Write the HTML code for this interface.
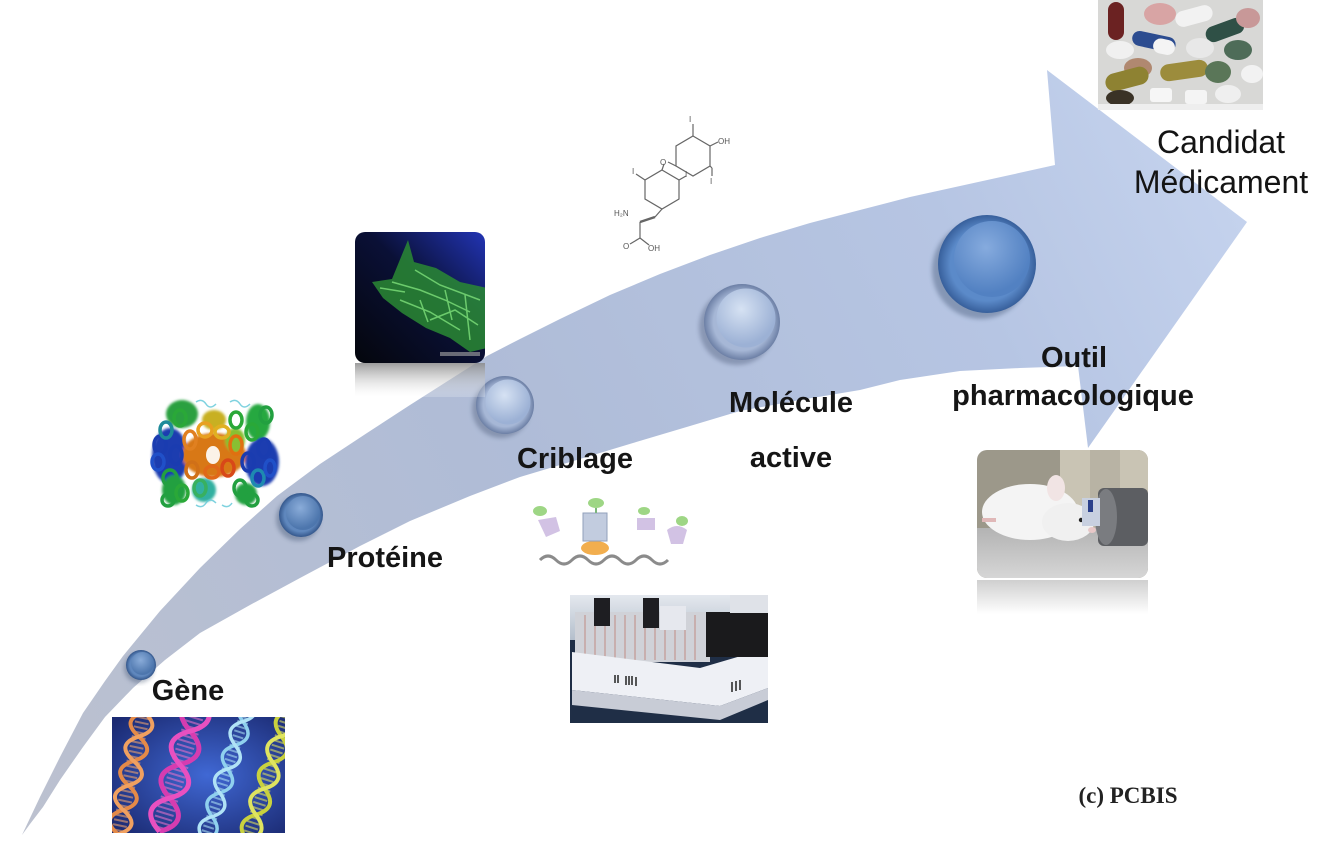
<!DOCTYPE html>
<html><head><meta charset="utf-8">
<style>
html,body{margin:0;padding:0;background:#fff;width:1340px;height:844px;overflow:hidden;}
svg{display:block;}
.lab{font-family:"Liberation Sans",sans-serif;font-weight:bold;font-size:29px;fill:#151515;}
.reg{font-family:"Liberation Sans",sans-serif;font-size:32px;fill:#141414;}
.mol{font-family:"Liberation Sans",sans-serif;font-size:8px;fill:#555;}
</style></head><body>
<svg width="1340" height="844" viewBox="0 0 1340 844" xmlns="http://www.w3.org/2000/svg">
<defs>
 <linearGradient id="band" gradientUnits="userSpaceOnUse" x1="22" y1="835" x2="1247" y2="222">
  <stop offset="0" stop-color="#bcc1cf"/>
  <stop offset="0.45" stop-color="#afbcd7"/>
  <stop offset="0.8" stop-color="#b6c5e3"/>
  <stop offset="1" stop-color="#c4d2ed"/>
 </linearGradient>
 <radialGradient id="bRim" cx="0.5" cy="0.5" r="0.5"><stop offset="0.75" stop-color="#5f87bd"/><stop offset="1" stop-color="#34578c"/></radialGradient>
 <radialGradient id="bFace" cx="0.42" cy="0.35" r="0.6"><stop offset="0" stop-color="#8aacd9"/><stop offset="1" stop-color="#4d76ad"/></radialGradient>
 <radialGradient id="lRim" cx="0.5" cy="0.5" r="0.5"><stop offset="0.75" stop-color="#a6b7d6"/><stop offset="1" stop-color="#6c7fa5"/></radialGradient>
 <radialGradient id="lFace" cx="0.42" cy="0.35" r="0.6"><stop offset="0" stop-color="#d6e2f3"/><stop offset="1" stop-color="#9cb1d5"/></radialGradient>
 <radialGradient id="oRim" cx="0.5" cy="0.5" r="0.5"><stop offset="0.75" stop-color="#5b8ac9"/><stop offset="1" stop-color="#375f9b"/></radialGradient>
 <radialGradient id="oFace" cx="0.42" cy="0.35" r="0.6"><stop offset="0" stop-color="#86abde"/><stop offset="1" stop-color="#5281c2"/></radialGradient>
 <filter id="blur2"><feGaussianBlur stdDeviation="2"/></filter>
 <filter id="blur1"><feGaussianBlur stdDeviation="1.2"/></filter>
 <radialGradient id="dnaBg" cx="0.55" cy="0.5" r="0.7"><stop offset="0" stop-color="#4068d4"/><stop offset="1" stop-color="#1b2a72"/></radialGradient>
 <clipPath id="dnaClip"><rect x="112" y="717" width="173" height="116"/></clipPath>
 <linearGradient id="cellBg" x1="0" y1="1" x2="1" y2="0"><stop offset="0" stop-color="#04060c"/><stop offset="0.55" stop-color="#0a1036"/><stop offset="1" stop-color="#2234b4"/></linearGradient>
 <linearGradient id="refl" x1="0" y1="0" x2="0" y2="1"><stop offset="0" stop-color="#8a8a8a" stop-opacity="0.85"/><stop offset="1" stop-color="#ffffff" stop-opacity="0.2"/></linearGradient>
 <linearGradient id="refl2" x1="0" y1="0" x2="0" y2="1"><stop offset="0" stop-color="#cfcfcf"/><stop offset="1" stop-color="#ffffff"/></linearGradient>
 <clipPath id="cellClip"><rect x="355" y="232" width="130" height="131" rx="10"/></clipPath>
 <clipPath id="ratClip"><rect x="977" y="450" width="171" height="128" rx="10"/></clipPath>
 <clipPath id="plateClip"><rect x="570" y="595" width="198" height="128"/></clipPath>
 <clipPath id="pillClip"><rect x="1098" y="0" width="165" height="110"/></clipPath>
 <linearGradient id="floor" x1="0" y1="0" x2="0" y2="1"><stop offset="0" stop-color="#b3b3b3"/><stop offset="1" stop-color="#d6d6d6"/></linearGradient>
 <linearGradient id="plateTop" x1="0" y1="0" x2="0" y2="1"><stop offset="0" stop-color="#e4e8ee"/><stop offset="1" stop-color="#b4bfcc"/></linearGradient>
</defs>

<rect width="1340" height="844" fill="#fff"/>

<!-- Big curved arrow -->
<path fill="url(#band)" d="M22,835 L40,797 L60,757 L83,713 L105,681 L123,656 L160,611 L200,568 L240,529 L277,496 L320,464 L367,433 L410,405 L443,384 L487,356 L520,339 L560,319 L610,295 L660,274 L710,255 L760,238 L810,223 L860,210 L910,197 L960,186 L1010,175 L1055,165 L1047,70 L1247,222 L1088,448 L1078,366 L1020,368 L960,371 L900,380 L860,390 L800,400 L740,411 L690,426 L633,443 L580,459 L520,477 L470,496 L410,521 L360,546 L300,578 L250,605 L200,633 L165,660 L133,688 L105,717 L83,747 L60,780 L43,807 L30,824 Z"/>

<!-- Circles -->
<g>
 <circle cx="139" cy="668" r="15" fill="#2c3f60" opacity="0.35" filter="url(#blur2)"/>
 <circle cx="141" cy="665" r="15" fill="url(#bRim)"/>
 <circle cx="142.5" cy="663.5" r="11.5" fill="url(#bFace)"/>

 <circle cx="298" cy="519" r="22" fill="#2c3f60" opacity="0.35" filter="url(#blur2)"/>
 <circle cx="301" cy="515" r="22" fill="url(#bRim)"/>
 <circle cx="303" cy="513" r="17" fill="url(#bFace)"/>

 <circle cx="501" cy="409" r="29" fill="#3a4868" opacity="0.35" filter="url(#blur2)"/>
 <circle cx="505" cy="405" r="29" fill="url(#lRim)"/>
 <circle cx="508" cy="402" r="22.5" fill="url(#lFace)"/>

 <circle cx="737" cy="327" r="38" fill="#3a4868" opacity="0.35" filter="url(#blur2)"/>
 <circle cx="742" cy="322" r="38" fill="url(#lRim)"/>
 <circle cx="746" cy="318" r="29.5" fill="url(#lFace)"/>

 <circle cx="981" cy="270" r="49" fill="#2c3f60" opacity="0.35" filter="url(#blur2)"/>
 <circle cx="987" cy="264" r="49" fill="url(#oRim)"/>
 <circle cx="992" cy="259" r="38" fill="url(#oFace)"/>
</g>

<!-- Labels -->
<text class="lab" x="188" y="700" text-anchor="middle">Gène</text>
<text class="lab" x="385" y="567" text-anchor="middle">Protéine</text>
<text class="lab" x="575" y="468" text-anchor="middle">Criblage</text>
<text class="lab" x="791" y="412" text-anchor="middle">Molécule</text>
<text class="lab" x="791" y="467" text-anchor="middle">active</text>
<text class="lab" x="1074" y="367" text-anchor="middle">Outil</text>
<text class="lab" x="1073" y="405" text-anchor="middle">pharmacologique</text>
<text class="reg" x="1221" y="153" text-anchor="middle">Candidat</text>
<text class="reg" x="1221" y="193" text-anchor="middle">Médicament</text>
<text x="1128" y="803" text-anchor="middle" font-family="Liberation Serif, serif" font-weight="bold" font-size="23" fill="#222">(c) PCBIS</text>

<!-- DNA image -->
<g clip-path="url(#dnaClip)">
 <rect x="112" y="717" width="173" height="116" fill="url(#dnaBg)"/>
 <g transform="translate(143,717) rotate(12)">
  <line x1="0" y1="-30" x2="0" y2="118" stroke="#e8a070" stroke-width="14" stroke-dasharray="2 3" opacity="0.6"/>
  <path d="M0,-30 q22,12.5 0,25 q-22,12.5 0,25 q22,12.5 0,25 q-22,12.5 0,25 q22,12.5 0,25 q-22,12.5 0,25" stroke="#e48a48" stroke-width="4" fill="none"/>
  <path d="M0,-30 q-22,12.5 0,25 q22,12.5 0,25 q-22,12.5 0,25 q22,12.5 0,25 q-22,12.5 0,25 q22,12.5 0,25" stroke="#f0a060" stroke-width="4" fill="none"/>
 </g>
 <g transform="translate(196,712) rotate(17)">
  <line x1="0" y1="-50" x2="0" y2="124" stroke="#e070c8" stroke-width="18" stroke-dasharray="2 3" opacity="0.6"/>
  <path d="M0,-50 q28,17.5 0,35 q-28,17.5 0,35 q28,17.5 0,35 q-28,17.5 0,35 q28,17.5 0,35" stroke="#d63cb0" stroke-width="5" fill="none"/>
  <path d="M0,-50 q-28,17.5 0,35 q28,17.5 0,35 q-28,17.5 0,35 q28,17.5 0,35 q-28,17.5 0,35" stroke="#e850c0" stroke-width="5" fill="none"/>
 </g>
 <g transform="translate(246,712) rotate(18)">
  <line x1="0" y1="-40" x2="0" y2="133" stroke="#a8dcf2" stroke-width="11" stroke-dasharray="2 3" opacity="0.6"/>
  <path d="M0,-40 q18,12.5 0,25 q-18,12.5 0,25 q18,12.5 0,25 q-18,12.5 0,25 q18,12.5 0,25 q-18,12.5 0,25 q18,12.5 0,25" stroke="#8fd0ee" stroke-width="3.5" fill="none"/>
  <path d="M0,-40 q-18,12.5 0,25 q18,12.5 0,25 q-18,12.5 0,25 q18,12.5 0,25 q-18,12.5 0,25 q18,12.5 0,25 q-18,12.5 0,25" stroke="#b0e2f6" stroke-width="3.5" fill="none"/>
 </g>
 <g transform="translate(286,722) rotate(18)">
  <line x1="0" y1="-40" x2="0" y2="122" stroke="#d8dc60" stroke-width="13" stroke-dasharray="2 3" opacity="0.6"/>
  <path d="M0,-40 q20,13.75 0,27.5 q-20,13.75 0,27.5 q20,13.75 0,27.5 q-20,13.75 0,27.5 q20,13.75 0,27.5 q-20,13.75 0,27.5" stroke="#c9d13e" stroke-width="4" fill="none"/>
  <path d="M0,-40 q-20,13.75 0,27.5 q20,13.75 0,27.5 q-20,13.75 0,27.5 q20,13.75 0,27.5 q-20,13.75 0,27.5 q20,13.75 0,27.5" stroke="#dfe460" stroke-width="4" fill="none"/>
 </g>
</g>

<!-- Protein ribbon cluster -->
<g filter="url(#blur1)">
 <ellipse cx="182" cy="414" rx="16" ry="14" fill="#2aa040"/>
 <ellipse cx="170" cy="456" rx="18" ry="28" fill="#1c3cb0"/>
 <ellipse cx="174" cy="490" rx="12" ry="15" fill="#22a040"/>
 <ellipse cx="214" cy="455" rx="32" ry="22" fill="#d87818"/>
 <ellipse cx="258" cy="422" rx="12" ry="18" fill="#28a840"/>
 <ellipse cx="262" cy="462" rx="17" ry="24" fill="#1c3cb0"/>
 <ellipse cx="246" cy="494" rx="11" ry="11" fill="#22a040"/>
 <ellipse cx="214" cy="420" rx="12" ry="10" fill="#c8b020"/>
 <ellipse cx="204" cy="490" rx="12" ry="12" fill="#30b0a0"/>
 <ellipse cx="235" cy="440" rx="10" ry="12" fill="#88c030"/>
</g>
<g fill="none" stroke-width="3.5">
 <ellipse cx="160" cy="445" rx="6" ry="9" stroke="#1a3cb0"/>
 <ellipse cx="158" cy="462" rx="6" ry="8" stroke="#2050c8"/>
 <ellipse cx="166" cy="430" rx="6" ry="8" stroke="#1e8a9a"/>
 <ellipse cx="170" cy="478" rx="7" ry="8" stroke="#22a040"/>
 <ellipse cx="176" cy="455" rx="6" ry="9" stroke="#1a3cb0"/>
 <ellipse cx="182" cy="493" rx="6" ry="8" stroke="#2aa838"/>
 <ellipse cx="180" cy="418" rx="6" ry="8" stroke="#2aa838"/>
 <ellipse cx="190" cy="440" rx="6" ry="9" stroke="#e08020"/>
 <ellipse cx="192" cy="470" rx="6" ry="8" stroke="#d07018"/>
 <ellipse cx="200" cy="488" rx="6" ry="8" stroke="#38b060"/>
 <ellipse cx="205" cy="430" rx="7" ry="7" stroke="#e8a020"/>
 <ellipse cx="212" cy="472" rx="7" ry="6" stroke="#e06818"/>
 <ellipse cx="222" cy="432" rx="7" ry="6" stroke="#e0b020"/>
 <ellipse cx="228" cy="468" rx="6" ry="8" stroke="#d84818"/>
 <ellipse cx="236" cy="445" rx="6" ry="9" stroke="#e07010"/>
 <ellipse cx="236" cy="420" rx="6" ry="8" stroke="#2aa838"/>
 <ellipse cx="240" cy="488" rx="6" ry="8" stroke="#22a040"/>
 <ellipse cx="248" cy="462" rx="6" ry="9" stroke="#1a3cb0"/>
 <ellipse cx="252" cy="432" rx="6" ry="8" stroke="#2aa838"/>
 <ellipse cx="258" cy="478" rx="6" ry="8" stroke="#1e8ab0"/>
 <ellipse cx="264" cy="448" rx="6" ry="9" stroke="#1a3cb0"/>
 <ellipse cx="266" cy="415" rx="6" ry="8" stroke="#22a040"/>
 <ellipse cx="270" cy="468" rx="5" ry="8" stroke="#2050c8"/>
 <ellipse cx="252" cy="500" rx="6" ry="6" stroke="#22a040"/>
 <ellipse cx="168" cy="500" rx="6" ry="6" stroke="#22a040"/>
</g>
<g fill="none" stroke-width="1.5" opacity="0.8">
 <path d="M196,402 q6,-4 10,2 q4,6 10,0" stroke="#60c8d8"/>
 <path d="M230,402 q6,-4 10,2 q4,6 10,0" stroke="#60c8d8"/>
 <path d="M196,505 q6,4 10,-2 q4,-6 10,0" stroke="#60c8d8"/>
 <path d="M222,505 q6,4 10,-2" stroke="#60c8d8"/>
</g>
<ellipse cx="213" cy="455" rx="7" ry="9" fill="#fff" opacity="0.9"/>

<!-- Cell image with reflection -->
<rect x="355" y="363" width="130" height="34" fill="url(#refl)"/>
<g clip-path="url(#cellClip)">
 <rect x="355" y="232" width="130" height="131" fill="url(#cellBg)"/>
 <path d="M408,240 L414,262 L436,268 L460,282 L487,288 L487,348 L470,352 L450,338 L426,328 L402,313 L383,298 L372,282 L392,279 Z" fill="#2a8a34" opacity="0.85"/>
 <path d="M392,282 L420,290 L445,300 L470,312 M400,300 L430,312 L460,330 M415,270 L440,285 L480,300 M430,320 L455,310 L478,325 M380,288 L405,292 M445,290 L452,320 M420,300 L428,322 M465,295 L470,340" stroke="#7ee07a" stroke-width="1.5" fill="none" opacity="0.8"/>
 <rect x="440" y="352" width="40" height="4" fill="#aaa" opacity="0.6"/>
</g>

<!-- Molecule drawing -->
<g stroke="#666" stroke-width="1.2" fill="none">
 <polygon points="693,136 710,146 710,166 693,176 676,166 676,146"/>
 <polygon points="662,170 679,180 679,199 662,209 645,199 645,180"/>
 <line x1="693" y1="136" x2="693" y2="124"/>
 <line x1="710" y1="146" x2="718" y2="142"/>
 <line x1="710" y1="166" x2="712" y2="168"/>
 <line x1="676" y1="166" x2="668" y2="162"/>
 <line x1="662" y1="170" x2="664" y2="164"/>
 <line x1="645" y1="180" x2="636" y2="174"/>
 <line x1="679" y1="180" x2="686" y2="176"/>
 <line x1="662" y1="209" x2="655" y2="217"/>
 <line x1="655" y1="217" x2="640" y2="222" stroke-width="2.5"/>
 <line x1="640" y1="222" x2="640" y2="238"/>
 <line x1="640" y1="238" x2="630" y2="244"/>
 <line x1="640" y1="238" x2="649" y2="245"/>
 <line x1="712" y1="168" x2="712" y2="176"/>
</g>
<text class="mol" x="689" y="122">I</text>
<text class="mol" x="718" y="144">OH</text>
<text class="mol" x="660" y="165">O</text>
<text class="mol" x="632" y="174">I</text>
<text class="mol" x="685" y="177">I</text>
<text class="mol" x="710" y="184">I</text>
<text class="mol" x="614" y="216">H₂N</text>
<text class="mol" x="623" y="249">O</text>
<text class="mol" x="648" y="251">OH</text>

<!-- Screening illustration -->
<g opacity="0.85">
 <path d="M540,560 q8,-8 16,0 q8,8 16,0 q8,-8 16,0 q8,8 16,0 q8,-8 16,0 q8,8 16,0 q8,-8 16,0 q8,8 16,0" stroke="#777" stroke-width="3" fill="none"/>
 <ellipse cx="595" cy="548" rx="14" ry="7" fill="#f0a030"/>
 <rect x="583" y="513" width="24" height="28" fill="#b8c4da" stroke="#8090b0"/>
 <ellipse cx="596" cy="503" rx="8" ry="5" fill="#8ed070"/>
 <line x1="596" y1="508" x2="596" y2="513" stroke="#6a6" stroke-width="2"/>
 <path d="M538,520 l18,-3 l4,14 l-14,6 z" fill="#cbb8e0"/>
 <ellipse cx="540" cy="511" rx="7" ry="5" fill="#8ed070"/>
 <path d="M637,518 l18,0 l0,12 l-18,0 z" fill="#cbb8e0"/>
 <ellipse cx="644" cy="511" rx="6" ry="4" fill="#8ed070"/>
 <path d="M667,530 q10,-8 20,0 l-4,14 l-12,0 z" fill="#cbb8e0"/>
 <ellipse cx="682" cy="521" rx="6" ry="5" fill="#8ed070"/>
</g>

<!-- Plate photo -->
<g clip-path="url(#plateClip)">
 <rect x="570" y="595" width="198" height="128" fill="#1f2e46"/>
 <rect x="570" y="595" width="198" height="45" fill="url(#plateTop)"/>
 <rect x="575" y="612" width="135" height="50" fill="#d0d2d8"/>
 <g stroke="#c09088" stroke-width="1.5" opacity="0.7">
  <line x1="585" y1="615" x2="585" y2="660"/><line x1="595" y1="615" x2="595" y2="660"/>
  <line x1="605" y1="615" x2="605" y2="660"/><line x1="615" y1="615" x2="615" y2="660"/>
  <line x1="625" y1="615" x2="625" y2="660"/><line x1="635" y1="615" x2="635" y2="660"/>
  <line x1="645" y1="615" x2="645" y2="660"/><line x1="655" y1="615" x2="655" y2="660"/>
  <line x1="665" y1="615" x2="665" y2="660"/><line x1="675" y1="615" x2="675" y2="660"/>
  <line x1="685" y1="615" x2="685" y2="660"/><line x1="695" y1="615" x2="695" y2="660"/>
 </g>
 <polygon points="572,652 700,668 768,648 768,688 720,706 572,690" fill="#eef0f5"/>
 <polygon points="572,690 720,706 768,688 768,700 720,720 572,705" fill="#c8ccd6"/>
 <rect x="594" y="598" width="16" height="28" fill="#1e1e22"/>
 <rect x="643" y="598" width="16" height="30" fill="#1e1e22"/>
 <rect x="660" y="606" width="26" height="24" fill="#e6e8ee"/>
 <rect x="706" y="612" width="62" height="45" fill="#1a1a1c"/>
 <rect x="730" y="595" width="38" height="18" fill="#dfe2e8"/>
 <g stroke="#222" stroke-width="1.5">
  <line x1="615" y1="675" x2="615" y2="683"/><line x1="618" y1="675" x2="618" y2="683"/>
  <line x1="626" y1="676" x2="626" y2="685"/><line x1="629" y1="676" x2="629" y2="685"/>
  <line x1="632" y1="676" x2="632" y2="685"/><line x1="636" y1="677" x2="636" y2="686"/>
  <line x1="732" y1="682" x2="732" y2="692"/><line x1="736" y1="681" x2="736" y2="691"/>
  <line x1="740" y1="680" x2="740" y2="690"/>
 </g>
</g>

<!-- Rat photo with reflection -->
<rect x="977" y="580" width="171" height="34" fill="url(#refl2)"/>
<g clip-path="url(#ratClip)">
 <rect x="977" y="450" width="171" height="128" fill="#9c988a"/>
 <rect x="1060" y="450" width="88" height="80" fill="#c9c4b4"/>
 <rect x="1090" y="450" width="30" height="80" fill="#b8b3a4"/>
 <rect x="977" y="528" width="171" height="50" fill="url(#floor)"/>
 <ellipse cx="1030" cy="512" rx="48" ry="28" fill="#f4f4f4"/>
 <ellipse cx="1068" cy="522" rx="26" ry="19" fill="#f0f0f0"/>
 <ellipse cx="1056" cy="488" rx="9" ry="13" fill="#f1e4e4"/>
 <circle cx="1081" cy="520" r="2.2" fill="#222"/>
 <ellipse cx="1092" cy="530" rx="4" ry="3" fill="#e8c8c8"/>
 <rect x="1098" y="488" width="50" height="58" rx="6" fill="#5c5e62"/>
 <ellipse cx="1106" cy="517" rx="11" ry="28" fill="#7a7c80"/>
 <rect x="1082" y="498" width="18" height="28" fill="#c8d0e0"/>
 <rect x="1088" y="500" width="5" height="12" fill="#2a3f8a"/>
 <rect x="982" y="518" width="14" height="4" fill="#e0b8b8"/>
</g>

<!-- Pills -->
<g clip-path="url(#pillClip)">
 <rect x="1098" y="0" width="165" height="110" fill="#d8d8d6"/>
 <rect x="1108" y="2" width="16" height="38" rx="8" fill="#6b2222"/>
 <ellipse cx="1160" cy="14" rx="16" ry="11" fill="#d8a4a4"/>
 <rect x="1175" y="8" width="38" height="16" rx="8" fill="#f2f2f2" transform="rotate(-15 1194 16)"/>
 <rect x="1205" y="22" width="40" height="16" rx="8" fill="#2f5046" transform="rotate(-20 1225 30)"/>
 <ellipse cx="1248" cy="18" rx="12" ry="10" fill="#c89898"/>
 <rect x="1132" y="34" width="44" height="15" rx="7.5" fill="#2c4c90" transform="rotate(12 1154 41)"/>
 <rect x="1154" y="37" width="22" height="15" rx="7.5" fill="#f4f4f4" transform="rotate(12 1154 41)"/>
 <ellipse cx="1120" cy="50" rx="14" ry="9" fill="#f0f0f0"/>
 <ellipse cx="1200" cy="48" rx="14" ry="10" fill="#e8e8e8"/>
 <ellipse cx="1238" cy="50" rx="14" ry="10" fill="#4e6c58"/>
 <ellipse cx="1138" cy="68" rx="14" ry="10" fill="#b08870"/>
 <rect x="1105" y="70" width="44" height="18" rx="9" fill="#8e8232" transform="rotate(-15 1127 79)"/>
 <rect x="1160" y="62" width="48" height="17" rx="8.5" fill="#9c8c3c" transform="rotate(-8 1184 70)"/>
 <ellipse cx="1218" cy="72" rx="13" ry="11" fill="#5a7658"/>
 <ellipse cx="1252" cy="74" rx="11" ry="9" fill="#f2f2f2"/>
 <rect x="1150" y="88" width="22" height="14" rx="3" fill="#f6f6f6"/>
 <rect x="1185" y="90" width="22" height="14" rx="3" fill="#f4f4f4"/>
 <ellipse cx="1228" cy="94" rx="13" ry="9" fill="#efefef"/>
 <ellipse cx="1120" cy="98" rx="14" ry="8" fill="#3a3226"/>
 <rect x="1098" y="104" width="165" height="6" fill="#eeeeee"/>
</g>
</svg>
</body></html>
